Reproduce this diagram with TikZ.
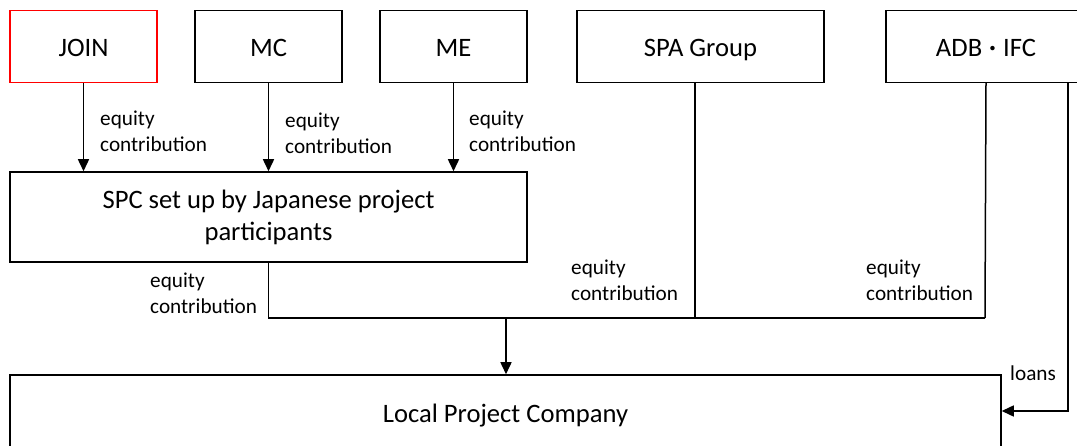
\documentclass[tikz,border=0pt]{standalone}
\usepackage{fontspec}
\setmainfont{Carlito}
\newfontfamily\jpfont{Noto Sans CJK JP}
\usetikzlibrary{arrows.meta}
\begin{document}
\begin{tikzpicture}[x=1bp,y=-1bp,
  box/.style={draw=black, line width=1.5bp, inner sep=0pt, align=center,
    font=\fontsize{26.7}{32}\selectfont},
  onel/.style={text height=20bp, text depth=0bp},
  lbl/.style={inner sep=0pt, align=left, anchor=west,
    font=\fontsize{21.3}{26}\selectfont},
  ln/.style={line width=1.5bp},
  arr/.style={line width=1.5bp, -{Triangle[length=12bp,width=11bp]}}]
\useasboundingbox (0,0) rectangle (1077,446);
\clip (0,0) rectangle (1077,446);
% boxes
\node[box, onel, draw=red, minimum width=147bp, minimum height=72bp] (join) at (83.5,46.5) {JOIN};
\node[box, onel, minimum width=147bp, minimum height=72bp] (mc) at (268.5,46.5) {MC};
\node[box, onel, minimum width=147bp, minimum height=72bp] (me) at (453.5,46.5) {ME};
\node[box, onel, minimum width=247bp, minimum height=72bp] (spa) at (700.5,46.5) {SPA Group};
\node[box, onel, minimum width=200bp, minimum height=72bp] (adb) at (986,46.5) {ADB{\jpfont\fontsize{21}{21}\selectfont ・}IFC};
\node[box, minimum width=517bp, minimum height=90bp] (spc) at (268.5,217) {SPC set up by Japanese project\\participants};
\node[box, onel, minimum width=991bp, minimum height=76bp] (lpc) at (505.5,413) {Local Project Company};
% labels
\node[lbl] (l1) at (100,131) {equity\\contribution};
\node[lbl] (l2) at (285,133) {equity\\contribution};
\node[lbl] (l3) at (469,131) {equity\\contribution};
\node[lbl] (l4) at (150,293) {equity\\contribution};
\node[lbl] (l5) at (571,280) {equity\\contribution};
\node[lbl] (l6) at (866,280) {equity\\contribution};
\node[lbl] (l7) at (1010,373) {loans};
% coordinates
\coordinate (bus) at (506,318);
\coordinate (busr) at (985,318);
\coordinate (spab) at (695,83);
\coordinate (loanb) at (1068,83);
% connectors
\draw[arr] (join.south) -- (join.south |- spc.north);
\draw[arr] (mc.south) -- (mc.south |- spc.north);
\draw[arr] (me.south) -- (me.south |- spc.north);
\draw[ln] (spc.south) |- (busr);
\draw[ln] (spab) -- (spab |- bus);
\draw[ln] (adb.south) -- (busr);
\draw[arr] (bus) -- (bus |- lpc.north);
\draw[arr] (loanb) |- ([yshift=2bp]lpc.east);
\end{tikzpicture}
\end{document}
